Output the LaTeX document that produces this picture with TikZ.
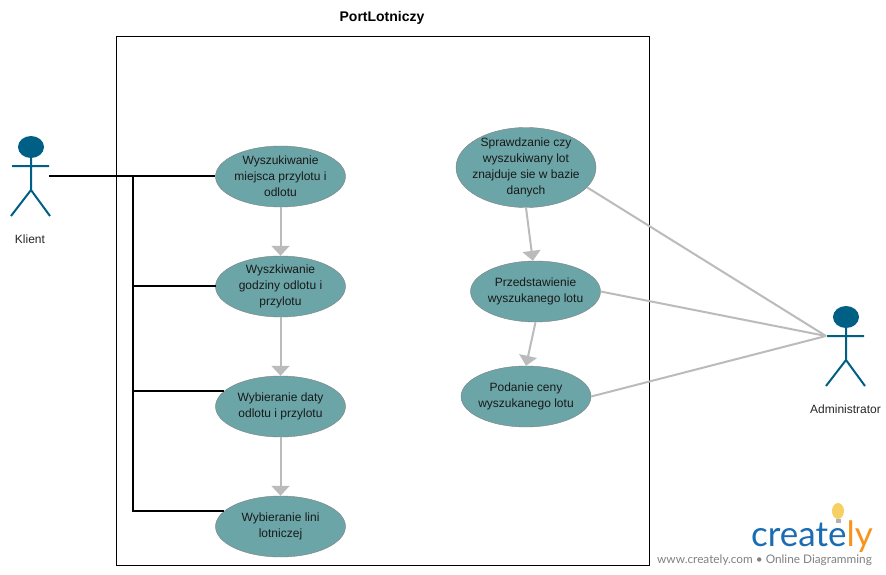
\documentclass[tikz,border=0pt]{standalone}
\usepackage{fontspec}
\setmainfont{Liberation Sans}
\newfontfamily\logofont{Lato}
\usetikzlibrary{arrows.meta, shapes.geometric}
\definecolor{usecase}{HTML}{6BA5A7}
\definecolor{actorblue}{HTML}{005F85}
\definecolor{flowgray}{HTML}{BBBBBB}
\definecolor{logoblue}{HTML}{1B6DB3}
\definecolor{logoorange}{HTML}{F7941E}
\definecolor{bulbyellow}{HTML}{F6D063}
\tikzstyle{case}=[draw=gray, fill=usecase, ellipse, inner sep=-8pt, minimum width=130pt, minimum height=61pt, align=center, text=black!90, font=\fontsize{12}{16}\selectfont]
\tikzstyle{assoc}=[draw=black, line width=2pt]
\tikzstyle{flow}=[draw=flowgray, line width=2pt, -{Triangle[width=18pt,length=10pt]}]
\tikzstyle{link}=[draw=flowgray, line width=2pt]
\tikzstyle{lbl}=[text=black!85, font=\fontsize{12}{14}\selectfont]
\tikzset{stick/.pic={
    \node [draw=none, fill=actorblue, ellipse, minimum width=26pt, minimum height=22pt, inner sep=0pt] (-head) at (0,0) {};
    \draw [actorblue, line width=2pt] (-head.south) -- (0,43) (-19,19) -- (18,19) (-20,69) -- (0,43) -- (19,69);
}}

\begin{document}
\begin{tikzpicture}[x=1pt,y=-1pt,node distance=110pt]
        \useasboundingbox (0,0) rectangle (886,575);
        \node [draw=black, line width=1pt, minimum width=533pt, minimum height=528pt, inner sep=0pt] (port) at (382.5,301) {};
        \node [font=\fontsize{14}{16}\selectfont\bfseries] (title) at (382,18) {PortLotniczy};
        % left column
        \node [case] (a) at (280.5,176.5) {Wyszukiwanie\\miejsca przylotu i\\odlotu};
        \node [case] (b) [below of=a] {Wyszkiwanie\\godziny odlotu i\\przylotu};
        \node [case] (c) [below of=b,node distance=120pt] {Wybieranie daty\\odlotu i przylotu};
        \node [case] (d) [below of=c,node distance=120pt] {Wybieranie lini\\lotniczej};
        % right column
        \node [case, minimum width=140pt, minimum height=80pt] (e) at (526,167.5) {Sprawdzanie czy\\wyszukiwany lot\\znajduje sie w bazie\\danych};
        \node [case] (f) at (535.5,291.5) {Przedstawienie\\wyszukanego lotu};
        \node [case] (g) at (526,396.5) {Podanie ceny\\wyszukanego lotu};
        % actors
        \pic (klient) at (31,147) {stick};
        \pic (admin) at (846,317) {stick};
        \node [lbl] (klientlbl) at (30,239) {Klient};
        \node [lbl] (adminlbl) at (845.5,409) {Administrator};
        \coordinate (klientend) at (49,176);
        \coordinate (adminend) at (826,336);
        \coordinate (bus) at (133,176);
        \coordinate (bjoin) at (216,286);
        % associations
        \draw [assoc] (klientend) -- (a.west |- klientend);
        \draw [assoc] (bus) |- (bjoin);
        \draw [assoc] (bus) |- (c.165);
        \draw [assoc] (bus) |- (d.165);
        % includes
        \draw [flow] (a) -- (b);
        \draw [flow] (b) -- (c);
        \draw [flow] (c) -- (d);
        \draw [flow] (e.south) -- (f.95);
        \draw [flow] (f.south) -- (g.north);
        \draw [link] (e.-18) -- (adminend);
        \draw [link] (f.east) -- (adminend);
        \draw [link] (g.east) -- (adminend);
        % logo
        \node [draw=none, fill=bulbyellow, ellipse, minimum width=12pt, minimum height=16pt, inner sep=0pt] (bulb) at (838,511) {};
        \node [draw=none, fill=gray!60, minimum width=5pt, minimum height=4pt, inner sep=0pt] (bulbbase) at (838,520.5) {};
        \node [anchor=base east, inner sep=0pt, font=\fontsize{35}{35}\logofont] (logo) at (873,546) {\textcolor{logoblue}{create}\textcolor{logoorange}{ly}};
        \node [anchor=base east, inner sep=0pt, text=gray, font=\fontsize{11.8}{14}\logofont] (tagline) at (872,563) {www.creately.com • Online Diagramming};
    \end{tikzpicture}
\end{document}
